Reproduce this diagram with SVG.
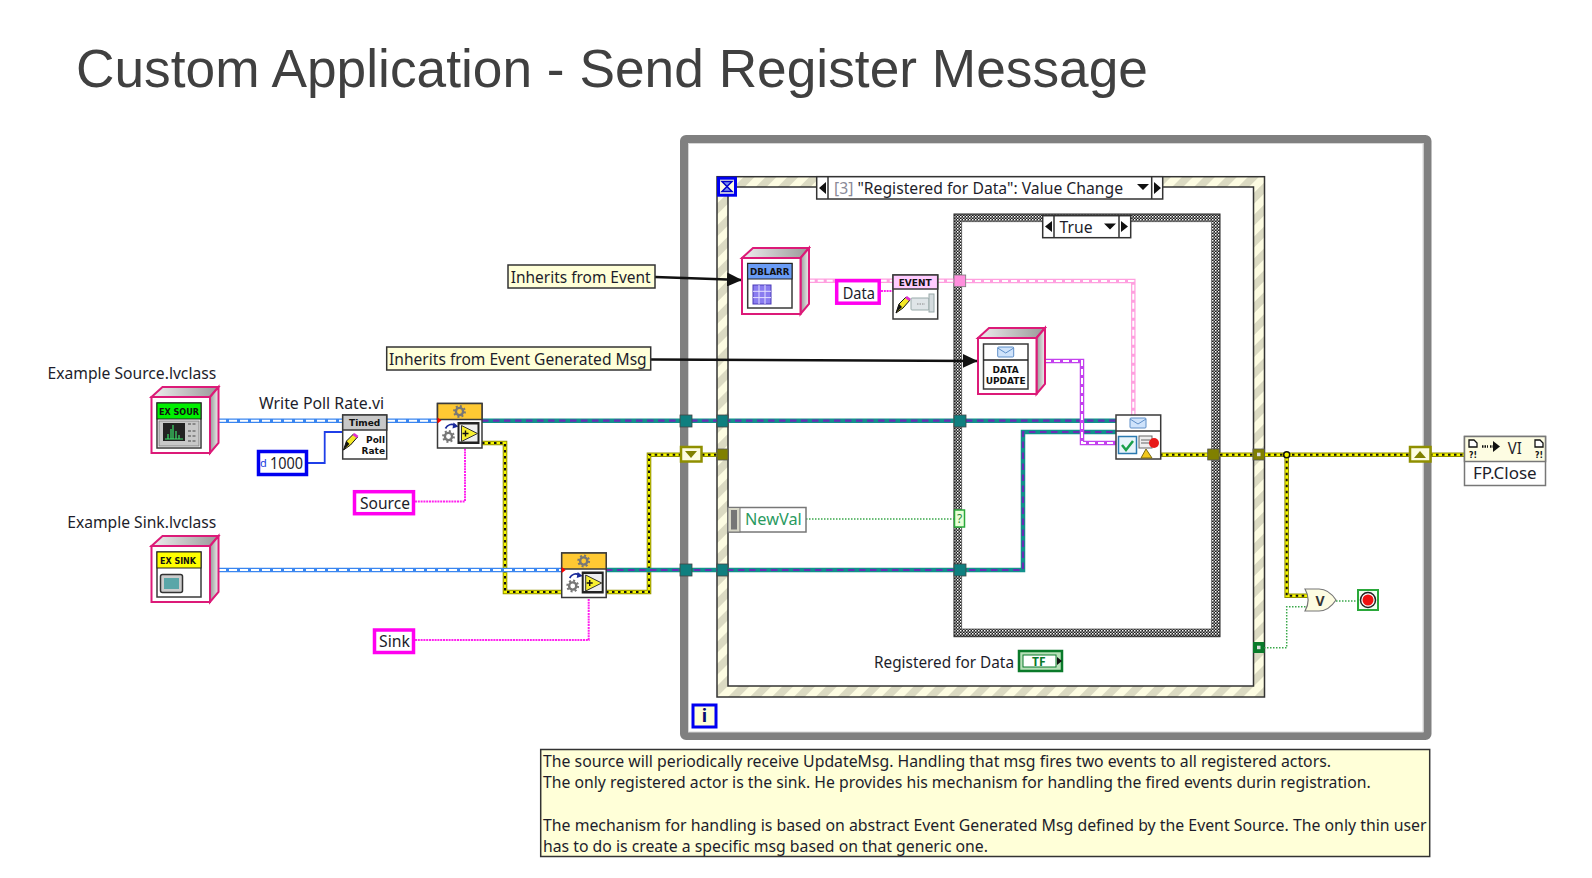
<svg xmlns="http://www.w3.org/2000/svg" xmlns:xlink="http://www.w3.org/1999/xlink" width="1592" height="878" viewBox="0 0 1592 878">
<style>
text{font-family:"Noto Sans","DejaVu Sans",sans-serif;fill:#1d1d2b}
.lb{font-size:17px}
.tiny{font-size:9px;font-weight:700;font-family:"DejaVu Sans",sans-serif;fill:#111}
.w{fill:none}
.bo{stroke:#3a86f0;stroke-width:4.5}.bi{stroke:#fff;stroke-width:2;stroke-dasharray:8 3}
.to{stroke:#12908c;stroke-width:4.5}.ti{stroke:#6a2bb5;stroke-width:2.2;stroke-dasharray:6.500 4.500}
.yo{stroke:#8f8f00;stroke-width:4.600}.yi{stroke:#f6f600;stroke-width:2.600}.yd{stroke:#111;stroke-width:2;stroke-dasharray:2.500 3.500}
.po{stroke:#ff9fdf;stroke-width:4.5}.pi{stroke:#fff;stroke-width:2;stroke-dasharray:6 3}
.uo{stroke:#c341ee;stroke-width:4.5}.ui{stroke:#fff;stroke-width:2;stroke-dasharray:6 3}
.m{stroke:#ff22ee;stroke-width:2;stroke-dasharray:2 .8}
.g{stroke:#3aa84a;stroke-width:1.5;stroke-dasharray:1.5 1.5}
.f{fill:#fff;stroke:#3a3a3a;stroke-width:1.5}
.cube{stroke:#dc1a78;stroke-width:2}
.tt{fill:#0f7f7f;stroke:#444;stroke-width:.8}
.ot{fill:#808000;stroke:#555;stroke-width:.8}
.note{fill:#ffffd8;stroke:#333;stroke-width:1.5}
.str{fill:#fff;stroke:#ff00f0;stroke-width:3.5}
</style>
<defs>
<pattern id="stripe" width="15.5" height="15.5" patternUnits="userSpaceOnUse" patternTransform="rotate(-45)"><rect width="15.5" height="15.5" fill="#fdfce2"/><rect width="15.5" height="7.75" fill="#dbdac2"/></pattern>
<pattern id="check" width="3" height="3" patternUnits="userSpaceOnUse"><rect width="3" height="3" fill="#1c1c1c"/><rect width="1.5" height="1.5" fill="#fff"/><rect x="1.5" y="1.5" width="1.5" height="1.5" fill="#aaa"/></pattern>
<linearGradient id="side" x1="0" x2="1" y1="0" y2="0"><stop offset="0" stop-color="#999"/><stop offset="1" stop-color="#eee"/></linearGradient>
<linearGradient id="topg" x1="0" x2="1" y1="0" y2="0"><stop offset="0" stop-color="#eee"/><stop offset="1" stop-color="#999"/></linearGradient>
<marker id="arrow" markerUnits="userSpaceOnUse" markerWidth="16" markerHeight="14" refX="15" refY="7" orient="auto"><path d="M0 0L15 7L0 14Z" fill="#111"/></marker>
<g id="cube">
<path d="M0 0L11-10H67L58.5 0Z" fill="url(#topg)" class="cube"/>
<path d="M58.5 0L67-10V46L58.5 56Z" fill="url(#side)" class="cube"/>
<rect width="58.5" height="56" fill="#fff" class="cube"/>
</g>
<g id="gear"><circle r="3.6" fill="none" stroke="#777" stroke-width="2.4"/><circle r="5.4" fill="none" stroke="#777" stroke-width="2" stroke-dasharray="2 2.2"/></g>
<g id="invoke">
<rect width="44.5" height="44.5" class="f"/>
<rect width="44.5" height="16" fill="#ffc933" stroke="#3a3a3a" stroke-width="1.5"/>
<use href="#gear" x="22" y="8"/>
<use href="#gear" x="11" y="33"/>
<path d="M8 25C10 21 14 20 18 22" fill="none" stroke="#1a2a9a" stroke-width="1.8"/><path d="M16 19L21 23L15 25Z" fill="#1a2a9a"/>
<rect x="20" y="18.5" width="22" height="22" fill="#222"/>
<rect x="22" y="21" width="18" height="17" fill="#eee"/>
<path d="M24 22L40 30L24 38Z" fill="#f7ef30" stroke="#333"/>
<path d="M25 30H31M28 27V33" stroke="#111" stroke-width="1.4"/>
<path d="M0 14L4 17L0 20Z" fill="#f00"/>
</g>
<g id="pencil"><path d="M0 16L3 7L10 0L14 3L7 11Z" fill="#f4e826" stroke="#111"/><path d="M0 16L3 7L6 10Z" fill="#111"/><path d="M9 1L11-1L15 2L13 4Z" fill="#e030d0"/></g>
<g id="env"><rect width="16" height="10" rx="1" fill="#cfe3fb" stroke="#5f8fc8"/><path d="M0 1L8 6L16 1" fill="none" stroke="#5f8fc8"/></g>
</defs>
<rect width="1592" height="878" fill="#fff"/>
<text id="title" x="76" y="87" font-size="53" style="font-family:'Liberation Sans',Arial,sans-serif;fill:#404040" textLength="1072" lengthAdjust="spacingAndGlyphs">Custom Application - Send Register Message</text>

<g id="while-loop">
<rect x="684" y="139" width="743.5" height="597" rx="2" fill="#fff" stroke="#808080" stroke-width="8"/>
<rect x="688.5" y="143.5" width="734.5" height="588.5" fill="none" stroke="#d6d6d6"/>
<rect x="693" y="705" width="23" height="22" fill="#ffffd8" stroke="#0000f0" stroke-width="3"/>
<text x="704.500" y="722" text-anchor="middle" font-size="18" font-weight="700" style="fill:#0a0a70">i</text>
</g>
<g id="event-structure">
<rect x="717" y="176.700" width="547.500" height="520.300" fill="url(#stripe)" stroke="#333" stroke-width="1.500"/>
<rect x="728" y="187" width="525.500" height="499" fill="#fff" stroke="#333" stroke-width="1.500"/>
<rect x="718.500" y="178.200" width="17" height="17" fill="#fdfce2" stroke="#0000f0" stroke-width="3"/>
<path d="M722 181.500H732L722 191.500H732Z" fill="#7a8ff0" stroke="#0000c8" stroke-width="1.500"/>
<rect x="816.700" y="176.700" width="346" height="22.300" fill="#fff" stroke="#333" stroke-width="1.500"/>
<path d="M828 176.700V199M1151.700 176.700V199" stroke="#333" stroke-width="1.500"/>
<path d="M826 182V194L819 188ZM1154 182V194L1161 188ZM1137 184H1149L1143 190Z" fill="#111"/>
<text class="lb" x="834" y="194" textLength="289" lengthAdjust="spacingAndGlyphs"><tspan style="fill:#8a8a98">[3] </tspan>"Registered for Data": Value Change</text>
<text class="lb" x="874" y="668" textLength="140" lengthAdjust="spacingAndGlyphs">Registered for Data</text>
</g>
<g id="case-structure">
<rect x="954" y="214" width="266" height="422.700" fill="url(#check)" stroke="#222"/>
<rect x="961.700" y="221.700" width="250" height="407.300" fill="#fff" stroke="#555" stroke-width=".8"/>
<rect x="1042.700" y="215.700" width="88" height="22" fill="#fff" stroke="#333" stroke-width="1.500"/>
<path d="M1054 215.700V237.700M1119 215.700V237.700" stroke="#333" stroke-width="1.500"/>
<path d="M1052 221V232L1045 226.500ZM1121 221V232L1128 226.500ZM1104 223.500H1116L1110 229.500Z" fill="#111"/>
<text class="lb" x="1059.500" y="232.500" textLength="33" lengthAdjust="spacingAndGlyphs">True</text>
</g>

<g id="connectors">
<g class="w">
<path class="yo" d="M482 443H505V592H562M606 592H649V454.700H680M702 454.700H717M1160 454.700H1465M1286.700 454.700V595.700H1308"/>
<path class="yi" d="M482 443H505V592H562M606 592H649V454.700H680M702 454.700H717M1160 454.700H1465M1286.700 454.700V595.700H1308"/>
<path class="yd" d="M482 443H505V592H562M606 592H649V454.700H680M702 454.700H717M1160 454.700H1465M1286.700 454.700V595.700H1308"/>
<path class="bo" d="M218 420.700H342M387 420.700H437M218 570H562"/>
<path class="bi" d="M218 420.700H342M387 420.700H437M218 570H562"/>
<path class="po" d="M808.700 280.700H893M938 280.700H954M966 281H1133.300V415"/>
<path class="pi" d="M808.700 280.700H893M938 280.700H954M966 281H1133.300V415"/>
<path class="to" d="M482 420.700H1116M606 570H1023V432H1116"/>
<path class="ti" d="M482 420.700H1116M606 570H1023V432H1116"/>
<path class="uo" d="M1045 361H1082V443H1116"/>
<path class="ui" d="M1045 361H1082V443H1116"/>
<path class="m" d="M415 501.500H465V447.700M415 640H588.700V597M881 291H893"/>
<path class="g" d="M806 519H954M1264 647.700H1286.700V606.700H1308M1336 601H1357"/>
<path d="M308 463H324.700V432H342" stroke="#1f3fe8" stroke-width="1.800"/>
<path d="M655 277L742 280" stroke="#111" stroke-width="2.500" marker-end="url(#arrow)"/>
<path d="M651 359.500L977.700 361" stroke="#111" stroke-width="2.500" marker-end="url(#arrow)"/>
</g>
<circle cx="1286.700" cy="454.700" r="3" fill="#f6f600" stroke="#111" stroke-width="1.500"/>
</g>

<g id="tunnels">
<rect class="tt" x="680" y="415" width="12" height="12"/><rect class="tt" x="717" y="415" width="11" height="12"/><rect class="tt" x="954" y="415" width="12" height="12"/>
<rect class="tt" x="680" y="564" width="12" height="12"/><rect class="tt" x="717" y="564" width="11" height="12"/><rect class="tt" x="954" y="564" width="12" height="12"/>
<rect class="ot" x="717" y="449" width="11" height="11"/><rect class="ot" x="1207.700" y="449" width="11.500" height="11"/>
<rect class="ot" x="1253" y="449" width="11.500" height="11"/><rect x="1257" y="452.700" width="3.500" height="3.500" fill="#ddd"/>
<rect x="1253" y="642" width="11.500" height="11" fill="#0a7a2a"/><rect x="1257" y="645.700" width="3.500" height="3.500" fill="#ddd"/>
<rect x="954" y="275" width="11.700" height="11.700" fill="#ff8fdd" stroke="#777" stroke-width=".8"/>
<rect x="954.500" y="510" width="10" height="17" fill="#e8ffd8" stroke="#2aa83a" stroke-width="1.500"/>
<text x="959.500" y="523" text-anchor="middle" font-size="12" style="fill:#2a8a3a">?</text>
</g>
<g id="shift-left"><rect x="681" y="447" width="20.500" height="14.500" fill="#fdfce2" stroke="#8f8f00" stroke-width="2.500"/><path d="M685 451H697L691 458Z" fill="#808000"/></g>
<g id="shift-right"><rect x="1410" y="447" width="20.500" height="14.500" fill="#fdfce2" stroke="#8f8f00" stroke-width="2.500"/><path d="M1414 458H1426L1420 451Z" fill="#808000"/></g>

<g id="example-source">
<use href="#cube" x="151.500" y="397"/>
<rect x="157" y="403" width="44" height="45" class="f"/>
<rect x="157" y="403" width="44" height="16" fill="#00f000" stroke="#222" stroke-width="1"/>
<text class="tiny" x="159" y="414.500" textLength="40" lengthAdjust="spacingAndGlyphs">EX SOUR</text>
<rect x="159" y="421" width="40" height="25" fill="#c8c8c8" stroke="#888"/>
<rect x="163" y="423" width="22" height="18" fill="#222"/>
<path d="M165 439H183M168 439V434M171 439V429M173 439V425M176 439V431M179 439V435" stroke="#3ce06a" stroke-width="1.200"/>
<path d="M188 424H197M188 431H197M188 436H197M188 441H197" stroke="#888" stroke-width="2" stroke-dasharray="3 1.500"/>
<text class="lb" x="47.500" y="379" textLength="168.700" lengthAdjust="spacingAndGlyphs">Example Source.lvclass</text>
</g>
<g id="example-sink">
<use href="#cube" x="151.500" y="546"/>
<rect x="157" y="552" width="44" height="45" class="f"/>
<rect x="157" y="552" width="44" height="16" fill="#ffff00" stroke="#222" stroke-width="1"/>
<text class="tiny" x="160" y="563.500" textLength="36" lengthAdjust="spacingAndGlyphs">EX SINK</text>
<rect x="160.500" y="574.500" width="22" height="18" rx="2" fill="#ccc" stroke="#333" stroke-width="1.500"/>
<rect x="164" y="578" width="15" height="11" fill="#5aa6a8"/>
<text class="lb" x="67.200" y="528" textLength="149" lengthAdjust="spacingAndGlyphs">Example Sink.lvclass</text>
</g>
<g id="write-poll-rate">
<rect x="342.700" y="415" width="44" height="44" class="f"/>
<rect x="342.700" y="415" width="44" height="15" fill="#c8c8c8" stroke="#3a3a3a" stroke-width="1.500"/>
<text class="tiny" x="364.700" y="426" text-anchor="middle">Timed</text>
<text class="tiny" x="385" y="443" text-anchor="end">Poll</text>
<text class="tiny" x="385" y="454" text-anchor="end">Rate</text>
<use href="#pencil" x="343.500" y="434"/>
<text class="lb" x="259" y="408.500" textLength="125" lengthAdjust="spacingAndGlyphs">Write Poll Rate.vi</text>
</g>
<g id="const-1000">
<rect x="258.500" y="451.500" width="48" height="23" fill="#fff" stroke="#0000f0" stroke-width="3.500"/>
<text x="260" y="467" font-size="11" style="fill:#2040e0">d</text>
<text class="lb" x="270" y="469" textLength="33" lengthAdjust="spacingAndGlyphs">1000</text>
</g>
<g id="invoke-source"><use href="#invoke" x="437.500" y="403.500"/></g>
<g id="invoke-sink"><use href="#invoke" x="561.700" y="553"/></g>
<g id="str-source"><rect class="str" x="354.500" y="491.700" width="59" height="22"/><text class="lb" x="360" y="508.500" textLength="50" lengthAdjust="spacingAndGlyphs">Source</text></g>
<g id="str-sink"><rect class="str" x="374.500" y="630" width="39" height="22.500"/><text class="lb" x="379" y="647" textLength="31" lengthAdjust="spacingAndGlyphs">Sink</text></g>
<g id="note-event"><rect class="note" x="508" y="265" width="147" height="23"/><text class="lb" x="510.700" y="283" textLength="140" lengthAdjust="spacingAndGlyphs">Inherits from Event</text></g>
<g id="note-generated"><rect class="note" x="386.700" y="347" width="264" height="23"/><text class="lb" x="389" y="365" textLength="257.700" lengthAdjust="spacingAndGlyphs">Inherits from Event Generated Msg</text></g>
<g id="dblarr">
<use href="#cube" x="742" y="258"/>
<rect x="747.700" y="263.500" width="44.300" height="44.500" class="f"/>
<rect x="747.700" y="263.500" width="44.300" height="15.500" fill="#6a9cf6" stroke="#222" stroke-width="1"/>
<text class="tiny" x="750" y="275" textLength="39.500" lengthAdjust="spacingAndGlyphs">DBLARR</text>
<rect x="753" y="285" width="18" height="19" fill="#8a7cf0" stroke="#4a3ab8"/>
<path d="M759 285V304M765 285V304M753 291.300H771M753 297.600H771" stroke="#e4e0ff"/>
</g>
<g id="data-str"><rect class="str" x="836.700" y="280.700" width="42.500" height="22.500"/><text class="lb" x="842.700" y="298.500" textLength="32.300" lengthAdjust="spacingAndGlyphs">Data</text></g>
<g id="event-node">
<rect x="893" y="275" width="44.700" height="44" class="f"/>
<rect x="893" y="275" width="44.700" height="14" fill="#ffccff" stroke="#3a3a3a" stroke-width="1.500"/>
<text class="tiny" x="915.200" y="286" text-anchor="middle">EVENT</text>
<use href="#pencil" x="896" y="297"/>
<rect x="911" y="298" width="18" height="12" rx="1" fill="#dfe5e8" stroke="#9aa"/><rect x="929" y="294" width="5" height="18" fill="#d5dcdf" stroke="#9aa"/>
<path d="M917 304H925" stroke="#888" stroke-dasharray="1.500 1"/>
</g>
<g id="data-update">
<use href="#cube" x="978" y="338"/>
<rect x="983.500" y="344" width="44.500" height="45" class="f"/>
<path d="M983.500 360H1028" stroke="#222" stroke-width="1.500"/>
<use href="#env" x="997.700" y="347"/>
<text class="tiny" x="1005.700" y="372.500" text-anchor="middle">DATA</text>
<text class="tiny" x="1005.700" y="384" text-anchor="middle">UPDATE</text>
</g>
<g id="send-node">
<rect x="1116" y="415" width="44.700" height="44" class="f"/>
<path d="M1116 431H1160.700" stroke="#3a3a3a" stroke-width="1.500"/>
<use href="#env" x="1130" y="418"/>
<rect x="1118.500" y="436.500" width="18" height="17" fill="#e8f4fa" stroke="#2a7ab0" stroke-width="1.500"/>
<path d="M1122 445L1126 450L1133 441" fill="none" stroke="#1aa04a" stroke-width="2.500"/>
<rect x="1139" y="436" width="13" height="12" fill="#eee" stroke="#666"/>
<path d="M1141 440H1150M1141 443H1150" stroke="#666"/>
<circle cx="1154" cy="443" r="5" fill="#e81818"/>
<path d="M1146 449L1152 458H1141Z" fill="#f2c81a" stroke="#7a6a10"/>
</g>
<g id="newval">
<rect x="728" y="507.500" width="78" height="24.500" fill="#fff" stroke="#777" stroke-width="1.500"/>
<rect x="728" y="507.500" width="12" height="24.500" fill="#d8d8c8" stroke="#777"/>
<rect x="731" y="510" width="6" height="19.500" fill="#777"/>
<text class="lb" x="745" y="525" style="fill:#2a9a60" textLength="56.700" lengthAdjust="spacingAndGlyphs">NewVal</text>
</g>
<g id="registered-tf">
<rect x="1019" y="651" width="43" height="20" fill="#b8e0b8" stroke="#0a7a2a" stroke-width="2.500"/>
<rect x="1023" y="655" width="33" height="12" fill="#fff" stroke="#0a7a2a"/>
<text x="1032" y="666" font-size="12" font-weight="700" style="fill:#0a7a2a">TF</text>
<path d="M1057 657V665L1062 661Z" fill="#111"/>
</g>
<g id="or-gate">
<path d="M1305 589H1319C1326 589 1332 594 1336 600C1332 606 1326 611 1319 611H1305C1309 604 1309 596 1305 589Z" fill="#fdfce2" stroke="#777" stroke-width="1.200"/>
<text x="1320" y="606" text-anchor="middle" font-size="14" font-weight="700" style="fill:#333">V</text>
</g>
<g id="stop">
<rect x="1358" y="590" width="20" height="20" fill="#f2fff2" stroke="#2aa83a" stroke-width="2"/>
<circle cx="1368" cy="600" r="7.500" fill="#fff" stroke="#222" stroke-width="1.500"/>
<circle cx="1368" cy="600" r="5.500" fill="#f01010"/>
</g>
<g id="fp-close">
<rect x="1464.500" y="436.500" width="81" height="49" fill="#fff" stroke="#777" stroke-width="1.500"/>
<rect x="1464.500" y="436.500" width="81" height="25" fill="#fdfce2" stroke="#777" stroke-width="1.500"/>
<path d="M1469 440H1474L1477 443V447H1469ZM1535 440H1540L1543 443V447H1535Z" fill="#fff" stroke="#111" stroke-width="1.300"/>
<text class="tiny" x="1469" y="458" textLength="8" lengthAdjust="spacingAndGlyphs">?!</text>
<text class="tiny" x="1535" y="458" textLength="8" lengthAdjust="spacingAndGlyphs">?!</text>
<path d="M1482 446.500H1488M1490 446.500H1496" stroke="#111" stroke-width="2.500" stroke-dasharray="1.500 1"/>
<path d="M1493 441L1500 446.500L1493 452Z" fill="#111"/>
<text x="1507.700" y="453.500" font-size="17" textLength="14" lengthAdjust="spacingAndGlyphs">VI</text>
<text class="lb" x="1473" y="478.500" textLength="63.700" lengthAdjust="spacingAndGlyphs">FP.Close</text>
</g>
<g id="comment">
<rect class="note" x="540.700" y="749.500" width="889" height="107"/>
<g font-size="16.500">
<text x="543" y="766.500" textLength="788" lengthAdjust="spacingAndGlyphs">The source will periodically receive UpdateMsg. Handling that msg fires two events to all registered actors.</text>
<text x="543" y="788" textLength="827.700" lengthAdjust="spacingAndGlyphs">The only registered actor is the sink. He provides his mechanism for handling the fired events durin registration.</text>
<text x="543" y="830.500" textLength="883.500" lengthAdjust="spacingAndGlyphs">The mechanism for handling is based on abstract Event Generated Msg defined by the Event Source. The only thin user</text>
<text x="543" y="851.500" textLength="445" lengthAdjust="spacingAndGlyphs">has to do is create a specific msg based on that generic one.</text>
</g>
</g>
</svg>
